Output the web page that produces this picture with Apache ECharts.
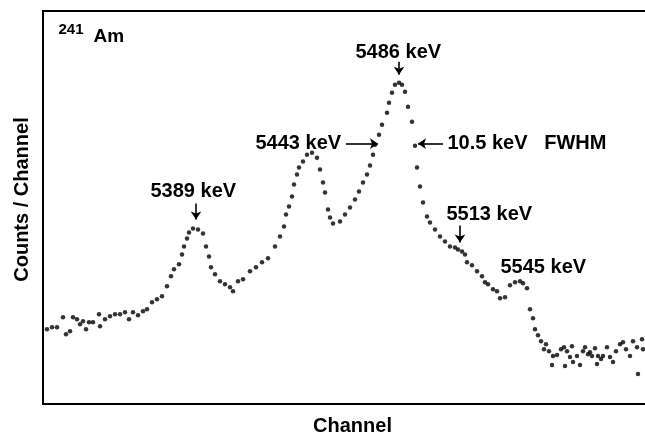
<!DOCTYPE html>
<html>
<head>
<meta charset="utf-8">
<script src="https://cdn.jsdelivr.net/npm/echarts@6/dist/echarts.min.js"></script>
<style>
html,body{margin:0;padding:0;background:#fff;}
#chart{width:645px;height:441px;}
</style>
</head>
<body>
<div id="chart"></div>
<script>
// Spectrum data (channel, counts in arbitrary units)
const channels = [4,9,14,20,23,27,30,34,37,40,43,46,50,56,57,62,67,72,77,82,86,90,95,100,104,109,114,119,124,128,131,136,139,141,144,146,150,155,160,163,166,168,172,177,182,187,190,195,200,207,213,219,225,232,237,241,243,246,249,251,254,256,260,264,269,274,277,280,282,285,287,290,297,302,307,312,316,320,324,327,330,332,336,339,344,346,349,352,356,359,362,365,369,372,374,377,380,384,387,392,397,402,407,412,415,419,422,424,429,434,439,442,445,450,454,457,462,467,472,477,480,484,487,490,492,495,498,501,503,506,509,510,514,518,521,522,524,527,529,530,534,537,540,542,545,547,549,552,554,555,558,560,564,567,570,573,577,580,583,587,590,594,595,599,600];
const counts = [75,77,77,87,70,73,87,85,80,83,75,82,82,90,78,85,88,90,90,92,85,92,89,93,95,102,105,108,118,128,135,140,150,158,166,172,176,175,171,158,148,137,130,123,120,117,113,123,125,133,137,142,146,158,168,178,190,198,208,220,230,237,243,250,252,247,235,222,212,195,187,181,183,190,197,205,213,222,230,239,250,260,270,280,292,302,312,320,322,320,313,298,283,259,237,218,202,188,182,175,168,163,158,157,155,153,150,142,139,133,128,122,120,115,113,106,107,119,122,123,121,116,95,86,75,69,63,55,60,53,39,48,49,55,57,38,53,47,58,42,48,39,53,57,50,52,48,56,40,48,45,48,57,47,42,53,60,62,55,48,63,57,30,65,55];

// Annotation texts and their anchor (left edge, vertical middle) in data units
const labelTexts = ["5389 keV","5443 keV","5486 keV","10.5 keV   FWHM","5513 keV","5545 keV"];
const labelX = [107,212,312,404,403,457];
const labelY = [213,261,352,261,190,137];
const isoSup = "241", isoName = "Am";
const isoSupPos = [15,375], isoNamePos = [50,368];

// Arrows: start -> end in data units
const arrowFrom = [[153,201],[356,343],[417,179],[303,261],[400,261]];
const arrowTo   = [[153,185],[356,330],[417,162],[335,261],[375,261]];

const font = "'Liberation Sans', Arial, Helvetica, sans-serif";
const chart = echarts.init(document.getElementById('chart'), null, {renderer:'canvas'});

const points = channels.map((c,i)=>[c, counts[i]]);
const mp = labelTexts.map((t,i)=>({
  coord:[labelX[i], labelY[i]], value:t,
  label:{formatter:t}
}));
mp.push({coord:isoSupPos, value:isoSup, label:{formatter:isoSup, fontSize:15}});
mp.push({coord:isoNamePos, value:isoName, label:{formatter:isoName, fontSize:19}});

const ml = arrowFrom.map((f,i)=>[{coord:f},{coord:arrowTo[i]}]);

const hidden = {axisTick:{show:false}, axisLabel:{show:false}, splitLine:{show:false}};
chart.setOption({
  animation:false,
  backgroundColor:'#fff',
  grid:{left:43, right:0, top:11, bottom:36},
  xAxis:[
    Object.assign({type:'value', min:0, max:602, position:'bottom',
      axisLine:{show:true, lineStyle:{color:'#000', width:2}},
      name:'Channel', nameLocation:'middle', nameGap:12,
      nameTextStyle:{fontFamily:font, fontSize:20, fontWeight:'bold', color:'#000', padding:[0,0,0,17]}}, hidden),
    Object.assign({type:'value', min:0, max:602, position:'top',
      axisLine:{show:true, lineStyle:{color:'#000', width:2}}}, hidden)
  ],
  yAxis:Object.assign({type:'value', min:0, max:394,
    axisLine:{show:true, lineStyle:{color:'#000', width:2}},
    name:'Counts / Channel', nameLocation:'middle', nameGap:11,
    nameTextStyle:{fontFamily:font, fontSize:20, fontWeight:'bold', color:'#000', padding:[0,0,0,16]}}, hidden),
  series:[{
    type:'scatter', data:points, symbol:'circle', symbolSize:4.5,
    itemStyle:{color:'#000'},
    markPoint:{
      symbol:'circle', symbolSize:1, itemStyle:{color:'rgba(0,0,0,0)'},
      label:{show:true, position:'right', distance:0, color:'#000', fontFamily:font, fontSize:20, fontWeight:'bold'},
      data:mp
    },
    markLine:{
      silent:true, symbol:['none','arrow'], symbolSize:8,
      lineStyle:{color:'#000', width:1.6, type:'solid'},
      label:{show:false},
      data:ml
    }
  }]
});
</script>
</body>
</html>
